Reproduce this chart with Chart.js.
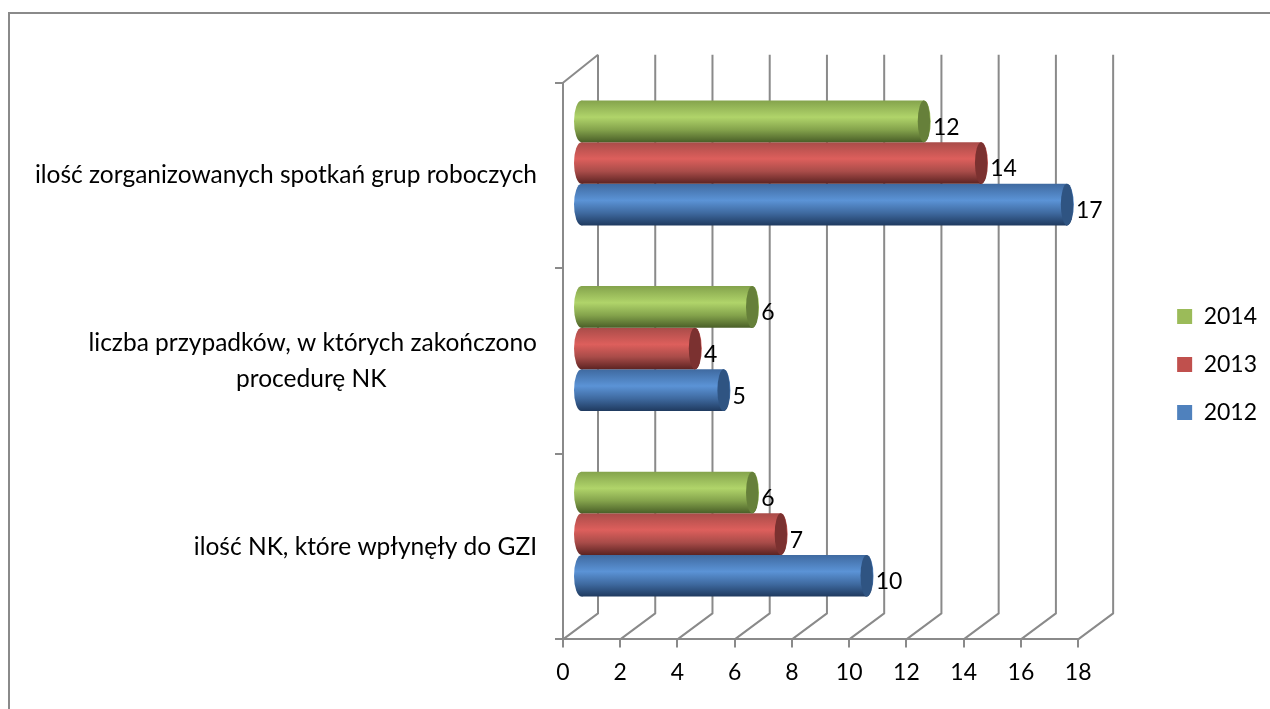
<!DOCTYPE html>
<html><head><meta charset="utf-8">
<style>html,body{margin:0;padding:0;background:#fff}#w{position:relative;width:1270px;height:709px}canvas{display:block}</style>
<script src="https://cdn.jsdelivr.net/npm/chart.js@4"></script>
</head><body><div id="w"><canvas id="c" width="1270" height="709"></canvas></div>
<script>
const categories = [
  "ilość zorganizowanych spotkań grup roboczych",
  ["liczba przypadków, w których zakończono", "procedurę NK"],
  "ilość NK, które wpłynęły do GZI"
];
const values2014 = [12, 6, 6];
const values2013 = [14, 4, 7];
const values2012 = [17, 5, 10];
const seriesNames = ["2014", "2013", "2012"];
const legendColors = ["#9bbb59", "#c0504d", "#4f81bd"];
const capColors = ["#66803a", "#7b3130", "#2f5482"];
const gradients = [
  ["#84a34c", "#b0d46a", "#4a5f28"],
  ["#a94c49", "#dd5f5c", "#5c2322"],
  ["#3f6aa0", "#5b93d6", "#1f3a5f"]
];
const FONT = "Lato, Carlito, sans-serif";
const GRID = "#8a8a8a";
const DX = 35, DY = 26, BAR_DY = 12.5;

const depth3d = {
  id: "depth3d",
  beforeDatasetsDraw(chart) {
    const { ctx, chartArea: a, scales: { x } } = chart;
    ctx.save();
    ctx.strokeStyle = GRID; ctx.lineWidth = 2; ctx.lineJoin = "round";
    x.ticks.forEach(t => {
      const px = x.getPixelForValue(t.value);
      ctx.beginPath();
      ctx.moveTo(px, a.bottom);
      ctx.lineTo(px + DX, a.bottom - DY);
      ctx.lineTo(px + DX, a.top - DY - 2);
      ctx.stroke();
    });
    ctx.beginPath();
    ctx.moveTo(a.left, a.top);
    ctx.lineTo(a.left + DX, a.top - DY - 2);
    ctx.stroke();
    ctx.restore();
  },
  beforeDatasetDraw(chart, args) {
    const { ctx } = chart;
    const i = args.index;
    const [c0, c1, c2] = gradients[i];
    ctx.save();
    ctx.translate(DX / 2, -BAR_DY);
    args.meta.data.forEach(el => {
      const top = el.y - el.height / 2, bot = el.y + el.height / 2;
      const g = ctx.createLinearGradient(0, top, 0, bot);
      g.addColorStop(0, c0); g.addColorStop(0.4, c1); g.addColorStop(0.7, c0); g.addColorStop(1, c2);
      el.$grad = g;
      el.options = Object.assign({}, el.options, { backgroundColor: g });
      ctx.fillStyle = g;
      ctx.beginPath();
      ctx.ellipse(el.base, el.y, 7.5, el.height / 2, 0, 0, Math.PI * 2);
      ctx.fill();
    });
  },
  afterDatasetDraw(chart, args) {
    const { ctx } = chart;
    const i = args.index;
    args.meta.data.forEach(el => {
      ctx.fillStyle = el.$grad;
      ctx.beginPath();
      ctx.ellipse(el.x, el.y, 6.8, el.height / 2, 0, 0, Math.PI * 2);
      ctx.fill();
      ctx.fillStyle = capColors[i];
      ctx.beginPath();
      ctx.ellipse(el.x, el.y, 6.2, el.height / 2, 0, 0, Math.PI * 2);
      ctx.fill();
    });
    ctx.restore();
  },
  afterDatasetsDraw(chart) {
    const { ctx } = chart;
    ctx.save();
    ctx.fillStyle = "#000";
    ctx.font = "23px " + FONT;
    ctx.textAlign = "left"; ctx.textBaseline = "middle";
    chart.data.datasets.forEach((ds, i) => {
      chart.getDatasetMeta(i).data.forEach((el, j) => {
        ctx.fillText(String(ds.data[j]), el.x + DX / 2 + 9, el.y - BAR_DY + 6);
      });
    });
    ctx.restore();
  },
  beforeDraw(chart) {
    const { ctx } = chart;
    ctx.save();
    ctx.strokeStyle = GRID; ctx.lineWidth = 2;
    ctx.beginPath();
    ctx.moveTo(9, 709); ctx.lineTo(9, 13); ctx.lineTo(1270, 13);
    ctx.stroke();
    ctx.restore();
  }
};

new Chart(document.getElementById("c"), {
  type: "bar",
  data: {
    labels: categories.map(l => Array.isArray(l) ? [l[0], l[1] + "\u00a0".repeat(24)] : l),
    datasets: [values2014, values2013, values2012].map((d, i) => ({
      label: seriesNames[i], data: d, backgroundColor: legendColors[i], borderWidth: 0,
      categoryPercentage: 0.673, barPercentage: 1
    }))
  },
  plugins: [depth3d],
  options: {
    indexAxis: "y",
    responsive: false,
    animation: false,
    layout: { padding: { left: 33, top: 32, right: 3, bottom: 12 } },
    scales: {
      x: {
        min: 0, max: 18,
        ticks: { stepSize: 2, color: "#000", font: { family: FONT, size: 23 }, padding: 11, maxRotation: 0 },
        grid: { drawOnChartArea: false, color: GRID, lineWidth: 2, tickLength: 8 },
        border: { color: GRID, width: 2 }
      },
      y: {
        afterFit(s) { s.width = 530; },
        ticks: { color: "#000", font: { family: FONT, size: 24.5, lineHeight: 1.45 }, padding: 18, autoSkip: false },
        grid: { drawOnChartArea: false, offset: true, color: GRID, lineWidth: 2, tickLength: 8 },
        border: { color: GRID, width: 2 }
      },
      legendGap: {
        type: "linear", position: "right", display: true,
        afterFit(s) { s.width = 74; },
        ticks: { display: false }, grid: { display: false }, border: { display: false }
      },
      topGap: {
        type: "linear", position: "top", display: true,
        afterFit(s) { s.height = 50.7; },
        ticks: { display: false }, grid: { display: false }, border: { display: false }
      }
    },
    plugins: {
      tooltip: { enabled: false },
      legend: {
        position: "right",
        labels: { color: "#000", boxWidth: 15, boxHeight: 15, padding: 25, font: { family: FONT, size: 23 } }
      }
    }
  }
});
</script></body></html>
